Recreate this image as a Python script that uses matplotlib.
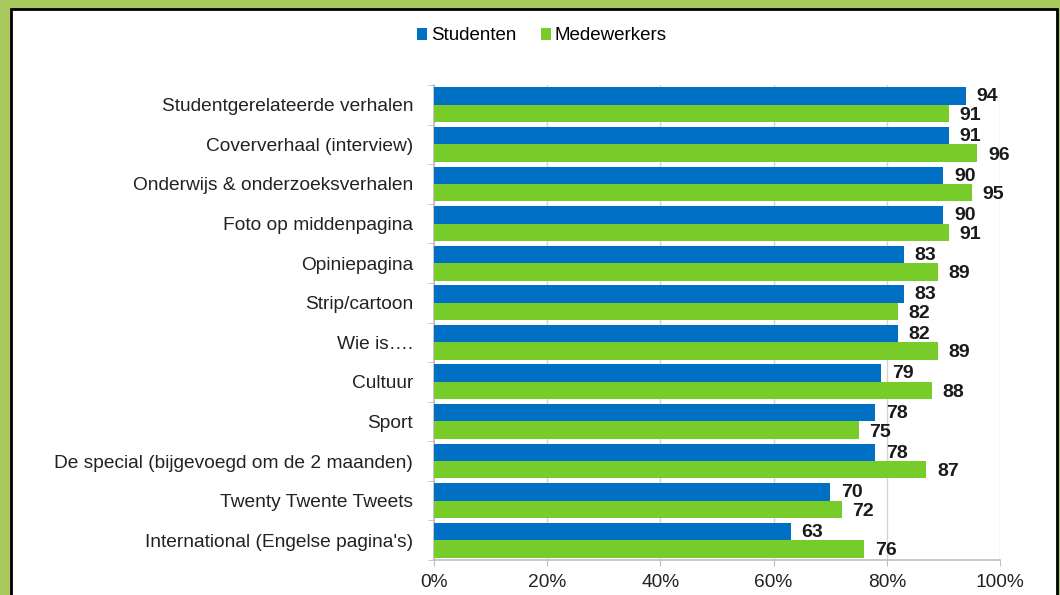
import matplotlib
matplotlib.use("Agg")
import matplotlib.pyplot as plt
import numpy as np
from matplotlib.patches import Rectangle
from matplotlib.ticker import FixedLocator, PercentFormatter

plt.rcParams['font.family'] = ['Liberation Sans', 'DejaVu Sans']

categories = [
    "Studentgerelateerde verhalen",
    "Coververhaal (interview)",
    "Onderwijs & onderzoeksverhalen",
    "Foto op middenpagina",
    "Opiniepagina",
    "Strip/cartoon",
    "Wie is….",
    "Cultuur",
    "Sport",
    "De special (bijgevoegd om de 2 maanden)",
    "Twenty Twente Tweets",
    "International (Engelse pagina's)",
]
studenten = [94, 91, 90, 90, 83, 83, 82, 79, 78, 78, 70, 63]
medewerkers = [91, 96, 95, 91, 89, 82, 89, 88, 75, 87, 72, 76]
series_names = ["Studenten", "Medewerkers"]
x_ticks = [0, 20, 40, 60, 80, 100]

blue = '#0070C4'
green = '#77CC2A'

fig = plt.figure(figsize=(10.6, 5.95), dpi=100)
# border
fig.patches.append(Rectangle((0, 0), 1, 1, transform=fig.transFigure,
                             facecolor='#A9C95F', edgecolor='none', zorder=-10))
fig.patches.append(Rectangle((11/1060, -0.01), (1057-11)/1060, 1 - 9/595 + 0.01,
                             transform=fig.transFigure, facecolor='white',
                             edgecolor='black', linewidth=2, zorder=-9))

ax = fig.add_axes([434/1060, 1-560/595, (1000-434)/1060, (560-85)/595])
ax.set_facecolor('none')

n = len(categories)
y = np.arange(n)
h = 0.44
ax.barh(y - h/2, studenten, height=h, color=blue, label=series_names[0], zorder=3)
ax.barh(y + h/2, medewerkers, height=h, color=green, label=series_names[1], zorder=3)

for yi, v in zip(y, studenten):
    ax.text(v + 1.9, yi - h/2 + 0.02, str(v), va='center', ha='left',
            fontsize=14, fontweight='bold', color='#1a1a1a', zorder=4)
for yi, v in zip(y, medewerkers):
    ax.text(v + 1.9, yi + h/2 + 0.05, str(v), va='center', ha='left',
            fontsize=14, fontweight='bold', color='#1a1a1a', zorder=4)

ax.set_ylim(n - 0.5, -0.5)
ax.set_xlim(0, 100)
ax.set_yticks(y)
ax.set_yticklabels(categories, fontsize=13.8, color='#222222')
ax.yaxis.set_minor_locator(FixedLocator(np.arange(-0.5, n, 1.0)))
ax.tick_params(axis='y', which='major', length=0, pad=15)
ax.tick_params(axis='y', which='minor', length=4, color='#BFBFBF', direction='out')

ax.set_xticks(x_ticks)
ax.xaxis.set_major_formatter(PercentFormatter(decimals=0))
ax.tick_params(axis='x', length=4, color='#BFBFBF', labelsize=13.8,
               labelcolor='#222222', pad=6)
ax.grid(axis='x', color='#D4D4D4', linewidth=1, zorder=0)
ax.set_axisbelow(True)

for s in ['top', 'right']:
    ax.spines[s].set_visible(False)
for s in ['left', 'bottom']:
    ax.spines[s].set_color('#BFBFBF')
    ax.spines[s].set_linewidth(1.2)

fig.legend(loc='center', bbox_to_anchor=(542/1060, 1-36/595), ncol=2,
           frameon=False, fontsize=13.5, handlelength=0.55, handleheight=0.55,
           handletextpad=0.2, columnspacing=1.3)

fig.savefig('out.png', dpi=100)
